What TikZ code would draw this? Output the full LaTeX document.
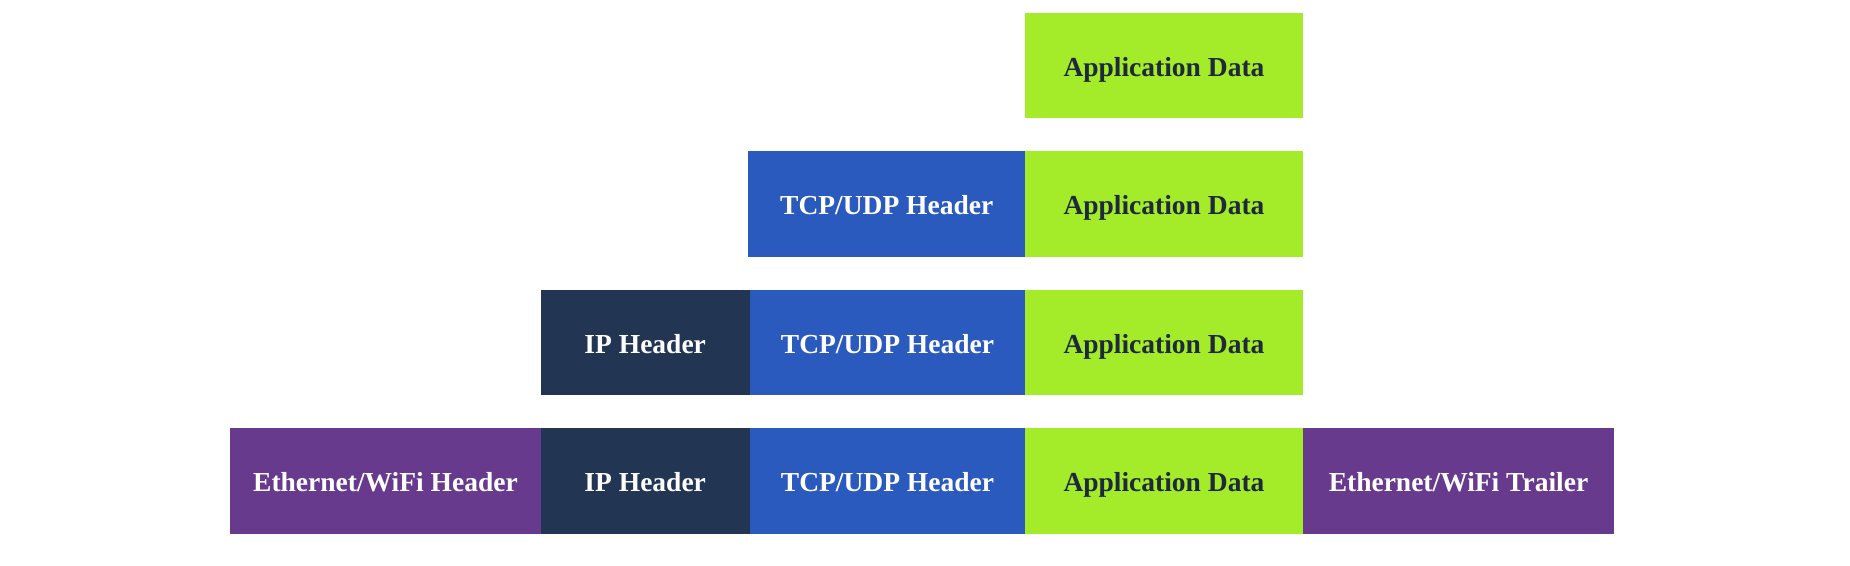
\documentclass[tikz,border=0pt]{standalone}
\usepackage{fontspec}
\setmainfont{Liberation Serif}
\definecolor{appgreen}{HTML}{A4EC2A}
\definecolor{tcpblue}{HTML}{2A5ABE}
\definecolor{ipnavy}{HTML}{223552}
\definecolor{ethpurple}{HTML}{673A8E}
\definecolor{darktext}{HTML}{1E293B}
\begin{document}
\begin{tikzpicture}[x=1pt,y=-1pt,
  seg/.style={rectangle,inner sep=0pt,anchor=north west,minimum height=105.5pt,
    text height=24pt,text depth=2pt,
    font=\fontsize{27.5}{30}\selectfont\bfseries},
  app/.style={seg,fill=appgreen,text=darktext,minimum width=277.5pt},
  tcp/.style={seg,fill=tcpblue,text=white,minimum width=275.5pt},
  ip/.style={seg,fill=ipnavy,text=white,minimum width=209pt},
  eth/.style={seg,fill=ethpurple,text=white,minimum width=310.5pt},
  trl/.style={seg,fill=ethpurple,text=white,minimum width=311.5pt}]
\useasboundingbox (0,0) rectangle (1850,565);
% row 1
\node[app] (a1) at (1025,12.5) {Application Data};
% row 2
\node[tcp,minimum width=277pt] (t2) at (748,151) {TCP/UDP Header};
\node[app] (a2) at (1025,151) {Application Data};
% row 3
\node[ip] (i3) at (540.5,289.5) {IP Header};
\node[tcp] (t3) at (749.5,289.5) {TCP/UDP Header};
\node[app] (a3) at (1025,289.5) {Application Data};
% row 4
\node[eth] (e4) at (230,428) {Ethernet/WiFi Header};
\node[ip] (i4) at (540.5,428) {IP Header};
\node[tcp] (t4) at (749.5,428) {TCP/UDP Header};
\node[app] (a4) at (1025,428) {Application Data};
\node[trl] (r4) at (1302.5,428) {Ethernet/WiFi Trailer};
\end{tikzpicture}
\end{document}
